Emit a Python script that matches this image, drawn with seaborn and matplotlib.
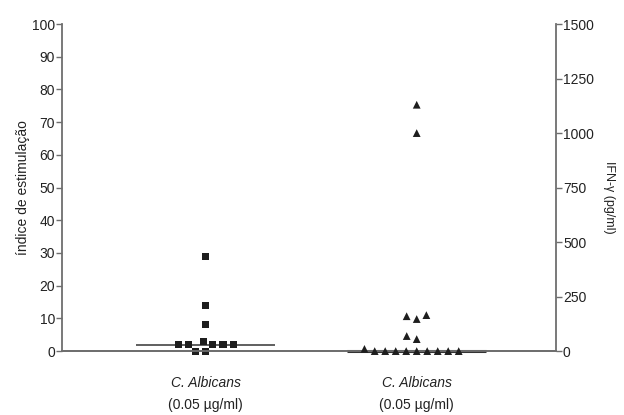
import numpy as np
import pandas as pd
import seaborn as sns
import matplotlib.pyplot as plt
from matplotlib import transforms

# Data
si_values = [2, 2, 2, 29, 14, 8, 0, 0, 2, 2, 3]               # índice de estimulação
ifn_values = [1130, 1000, 165, 147, 160, 69, 55,
              0, 0, 0, 0, 0, 0, 0, 0, 0, 10]                  # IFN-γ (pg/ml)
categories = ["SI", "IFN"]
italic_label = "C. Albicans"
dose_label = "(0.05 \u00b5g/ml)"
left_ticks = list(range(0, 101, 10))
right_ticks = list(range(0, 1501, 250))

sns.set_style("white")
plt.rcParams['font.family'] = ['Liberation Sans', 'DejaVu Sans']

df_si = pd.DataFrame({"grupo": categories[0], "valor": si_values})
df_ifn = pd.DataFrame({"grupo": categories[1], "valor": ifn_values})

fig = plt.figure(figsize=(6.24, 4.15), dpi=100)
ax = fig.add_axes([0.0994, 0.154, 0.7917, 0.788])
ax2 = ax.twinx()

spine_col = "#6e6e6e"
mark_col = "#1e1e1e"

# invisible edge width widens the swarm spacing so markers keep small gaps
sns.swarmplot(data=df_si, x="grupo", y="valor", order=categories, ax=ax,
              marker="s", size=5.1, color=mark_col, linewidth=1.8,
              edgecolor="none", clip_on=False)
sns.swarmplot(data=df_ifn, x="grupo", y="valor", order=categories, ax=ax2,
              marker="^", size=5.6, color=mark_col, linewidth=1.6,
              edgecolor="none", clip_on=False)

# drop empty collections left over from the unused category
for a in (ax, ax2):
    for coll in list(a.collections):
        if len(coll.get_offsets()) == 0:
            coll.remove()

# median lines
ax.hlines(np.median(si_values), -0.33, 0.33, color="#444444", lw=1.2, zorder=1)
ax2.hlines(np.median(ifn_values), 1 - 0.33, 1 + 0.33, color="#333333", lw=2.2, zorder=1,
           clip_on=False)

ax.set_xlim(-0.68, 1.66)
ax.set_ylim(0, 100)
ax2.set_ylim(0, 1500)
ax.set_yticks(left_ticks)
ax2.set_yticks(right_ticks)

for a in (ax, ax2):
    a.spines["top"].set_visible(False)
    for s in ("left", "right", "bottom"):
        a.spines[s].set_color(spine_col)
        a.spines[s].set_linewidth(1.3)
    a.tick_params(axis="y", length=4, width=1, color=spine_col, labelsize=10,
                  labelcolor="#222222", pad=1)
    a.set_xlabel("")

ax2.spines["left"].set_visible(False)
ax.spines["right"].set_visible(False)
ax.tick_params(axis="x", length=0)
ax.set_xticks([0, 1])
ax.set_xticklabels(["", ""])

ax.set_ylabel("índice de estimulação", fontsize=10, color="#222222")
ax.yaxis.set_label_coords(-0.065, 0.5)
ax2.set_ylabel("IFN-\u03b3 (pg/ml)", fontsize=9, rotation=-90, color="#222222")
ax2.yaxis.set_label_coords(1.12, 0.47)

trans = transforms.blended_transform_factory(ax.transData, ax.transAxes)
for pos in (0, 1):
    ax.text(pos, -0.098, italic_label, transform=trans, ha="center", va="center",
            fontsize=10, style="italic", color="#222222")
    ax.text(pos, -0.165, dose_label, transform=trans, ha="center", va="center",
            fontsize=10, color="#222222")

fig.savefig("out.png", dpi=100)
